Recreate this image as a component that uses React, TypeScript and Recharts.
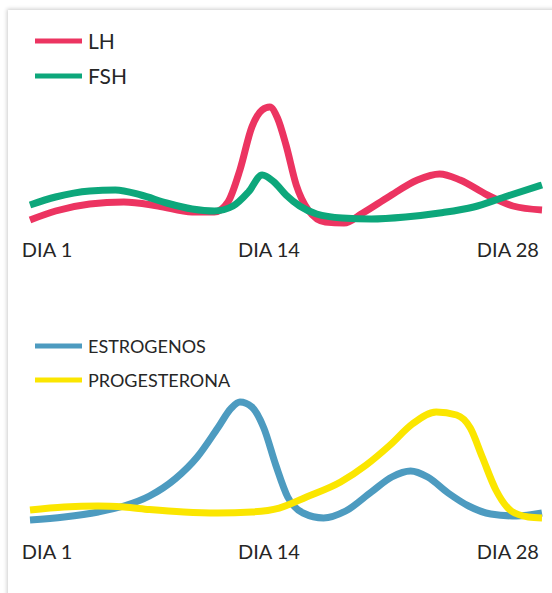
import React from 'react';
import { LineChart, Line, XAxis, YAxis, Legend } from 'recharts';

// [day, level] pairs (arbitrary hormone units)
const LH: [number, number][] = [
  [0, 10], [1.5, 19], [3.5, 26], [5.5, 28], [7.5, 24], [9.5, 18], [10.8, 18], [11.6, 28],
  [12.3, 60], [13, 103], [13.6, 120], [14.05, 123], [14.5, 112], [15, 85], [15.6, 45],
  [16.3, 20], [17.3, 8], [18.4, 7], [19.5, 17], [21, 33], [22.7, 50], [24, 56],
  [25.2, 50], [26.8, 35], [28.3, 24], [30, 20],
];
const FSH: [number, number][] = [
  [0, 25], [1.5, 33], [3.5, 39], [5, 40], [6.5, 35], [8, 27], [9.5, 21], [10.8, 19],
  [11.9, 24], [12.8, 38], [13.6, 55], [14.3, 48], [15, 35], [15.8, 24], [16.8, 16],
  [18.3, 12], [20, 11], [22, 13], [24, 17], [26, 23], [27.8, 33], [30, 45],
];
const ESTROGENOS: [number, number][] = [
  [0, 5], [2, 8], [4, 13], [5.5, 19], [7, 29], [8.5, 46], [9.8, 68], [11, 97],
  [11.8, 117], [12.3, 123], [13, 118], [13.7, 97], [14.4, 60], [15.1, 28], [16, 12],
  [17.2, 7], [18.5, 14], [20, 33], [21.2, 48], [22.3, 54], [23.3, 48], [24.5, 32],
  [25.7, 19], [27, 11], [28.5, 9], [30, 12],
];
const PROGESTERONA: [number, number][] = [
  [0, 15], [2, 18], [4, 19], [5.5, 18], [7, 15.5], [9, 13], [11, 12], [13, 13],
  [14.6, 17], [16.2, 28], [18.2, 43], [19.7, 60], [21.1, 80], [22.4, 101], [23.8, 113],
  [25, 110], [25.8, 97], [26.5, 68], [27.3, 35], [28.2, 14], [29.2, 8], [30, 7],
];

const DAY_TICKS = [1, 14, 28];
const dayLabel = (d: number) => `DIA ${d}`;

const toPoints = (arr: [number, number][]) => arr.map(([day, level]) => ({ day, level }));

const TEXT = '#262626';

const renderLegend = (order: string[], fontSize: number, rowHeight: number) => (props: any) => {
  const items = [...(props.payload || [])].sort(
    (a: any, b: any) => order.indexOf(a.value) - order.indexOf(b.value),
  );
  return (
    <div>
      {items.map((item: any) => (
        <div key={item.value} style={{ display: 'flex', alignItems: 'center', height: rowHeight }}>
          <svg width={47} height={8}>
            <line x1={0} y1={4} x2={47} y2={4} stroke={item.color} strokeWidth={5} />
          </svg>
          <span style={{ marginLeft: 6, fontSize, color: TEXT, lineHeight: 1 }}>{item.value}</span>
        </div>
      ))}
    </div>
  );
};

export default function App() {
  return (
    <div style={{ position: 'relative', width: 552, height: 593, overflow: 'hidden', fontFamily: 'Lato' }}>
      <style>{'body{margin:0;overflow:hidden}'}</style>
      {/* card with soft edge shadow */}
      <div style={{
        position: 'absolute', left: 8, top: 10, width: 560, height: 600,
        background: '#fff', boxShadow: '0 0 4px 1px rgba(0,0,0,0.2)',
      }} />

      {/* LH / FSH */}
      <div style={{ position: 'absolute', left: 0, top: 0 }}>
        <LineChart width={552} height={280} margin={{ top: 100, right: 10, left: 30, bottom: 0 }}>
          <XAxis
            type="number" dataKey="day" domain={[0, 30]} ticks={DAY_TICKS} interval={0}
            tickFormatter={dayLabel} axisLine={false} tickLine={false} height={50} tickMargin={7}
            tick={{ fill: TEXT, fontSize: 20, fontFamily: 'Lato' }}
          />
          <YAxis hide domain={[0, 130]} />
          <Line data={toPoints(LH)} dataKey="level" name="LH" type="monotone" stroke="#EC3461"
            strokeWidth={7} dot={false} isAnimationActive={false} />
          <Line data={toPoints(FSH)} dataKey="level" name="FSH" type="monotone" stroke="#0DA77B"
            strokeWidth={7} dot={false} isAnimationActive={false} />
          <Legend layout="vertical" align="center" verticalAlign="middle"
            wrapperStyle={{ top: 23, left: 35, width: 'auto' }}
            content={renderLegend(['LH', 'FSH'], 21, 35)} />
        </LineChart>
      </div>

      {/* ESTROGENOS / PROGESTERONA */}
      <div style={{ position: 'absolute', left: 0, top: 300 }}>
        <LineChart width={552} height={293} margin={{ top: 95, right: 10, left: 30, bottom: 0 }}>
          <XAxis
            type="number" dataKey="day" domain={[0, 30]} ticks={DAY_TICKS} interval={0}
            tickFormatter={dayLabel} axisLine={false} tickLine={false} height={68} tickMargin={14}
            tick={{ fill: TEXT, fontSize: 20, fontFamily: 'Lato' }}
          />
          <YAxis hide domain={[0, 130]} />
          <Line data={toPoints(ESTROGENOS)} dataKey="level" name="ESTROGENOS" type="monotone" stroke="#4D9BC0"
            strokeWidth={7} dot={false} isAnimationActive={false} />
          <Line data={toPoints(PROGESTERONA)} dataKey="level" name="PROGESTERONA" type="monotone" stroke="#FBE600"
            strokeWidth={7} dot={false} isAnimationActive={false} />
          <Legend layout="vertical" align="center" verticalAlign="middle"
            wrapperStyle={{ top: 29, left: 35, width: 'auto' }}
            content={renderLegend(['ESTROGENOS', 'PROGESTERONA'], 18, 34)} />
        </LineChart>
      </div>
    </div>
  );
}
